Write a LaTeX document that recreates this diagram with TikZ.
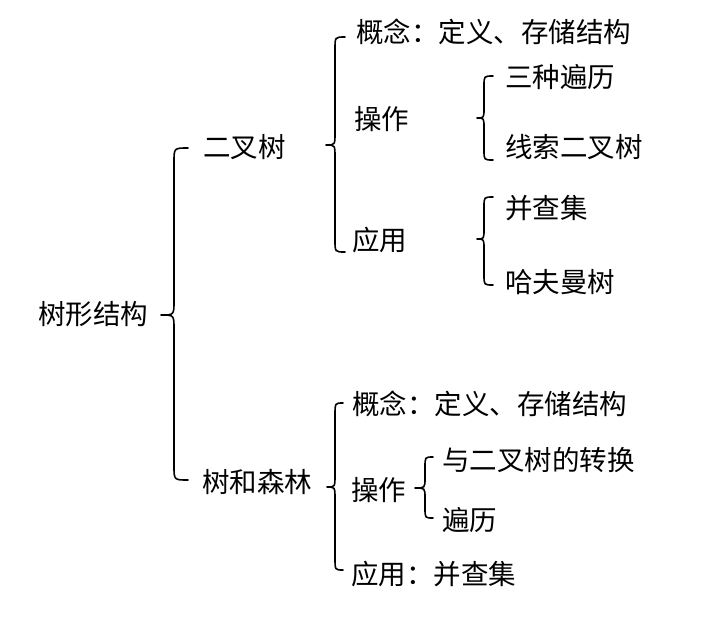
\documentclass[tikz,border=0pt]{standalone}
\usepackage{fontspec}
\newfontfamily\cjk{Noto Sans CJK SC}
\newcommand{\cbrace}[7]{% xe xv xt yt ym yb r
  \draw[bracestyle] (#1,#4) .. controls (#2,#4) .. (#2,#4+#7) -- (#2,#5-#7)
    .. controls (#2,#5) .. (#3,#5) .. controls (#2,#5) .. (#2,#5+#7)
    -- (#2,#6-#7) .. controls (#2,#6) .. (#1,#6);}
\begin{document}
\begin{tikzpicture}[x=1pt,y=-1pt,
  lbl/.style={anchor=west,inner sep=0pt,yshift=-6.5pt,font=\cjk\fontsize{27.5}{30}\selectfont,text height=0.84em,text depth=0.1em},
  bracestyle/.style={line width=1.6pt,line cap=round,line join=round}]
\useasboundingbox[fill=white] (0,0) rectangle (708,632);
% labels
\node[lbl] (root) at (38,314) {树形结构};
\node[lbl] (bt) at (203,147) {二叉树};
\node[lbl] (tf) at (202,482) {树和森林};
\node[lbl] (btc) at (356,32) {概念：定义、存储结构};
\node[lbl] (bto) at (354,119) {操作};
\node[lbl] (bta) at (352,240) {应用};
\node[lbl] (bto1) at (505,77) {三种遍历};
\node[lbl] (bto2) at (505,147) {线索二叉树};
\node[lbl] (bta1) at (505,208) {并查集};
\node[lbl] (bta2) at (505,282) {哈夫曼树};
\node[lbl] (tfc) at (352,404) {概念：定义、存储结构};
\node[lbl] (tfo) at (351,490) {操作};
\node[lbl] (tfa) at (351,574) {应用：并查集};
\node[lbl] (tfo1) at (442,460) {与二叉树的转换};
\node[lbl] (tfo2) at (442,520) {遍历};
% braces
\cbrace{188}{174}{161}{148}{315}{480}{14}
\cbrace{345}{335}{326}{37}{145}{252}{12}
\cbrace{493}{484}{477}{76}{118}{160}{10}
\cbrace{493}{484}{477}{197}{239}{285}{10}
\cbrace{343}{335}{327}{403}{487}{570}{12}
\cbrace{433}{425}{415}{457}{488}{518}{10}
\end{tikzpicture}
\end{document}
